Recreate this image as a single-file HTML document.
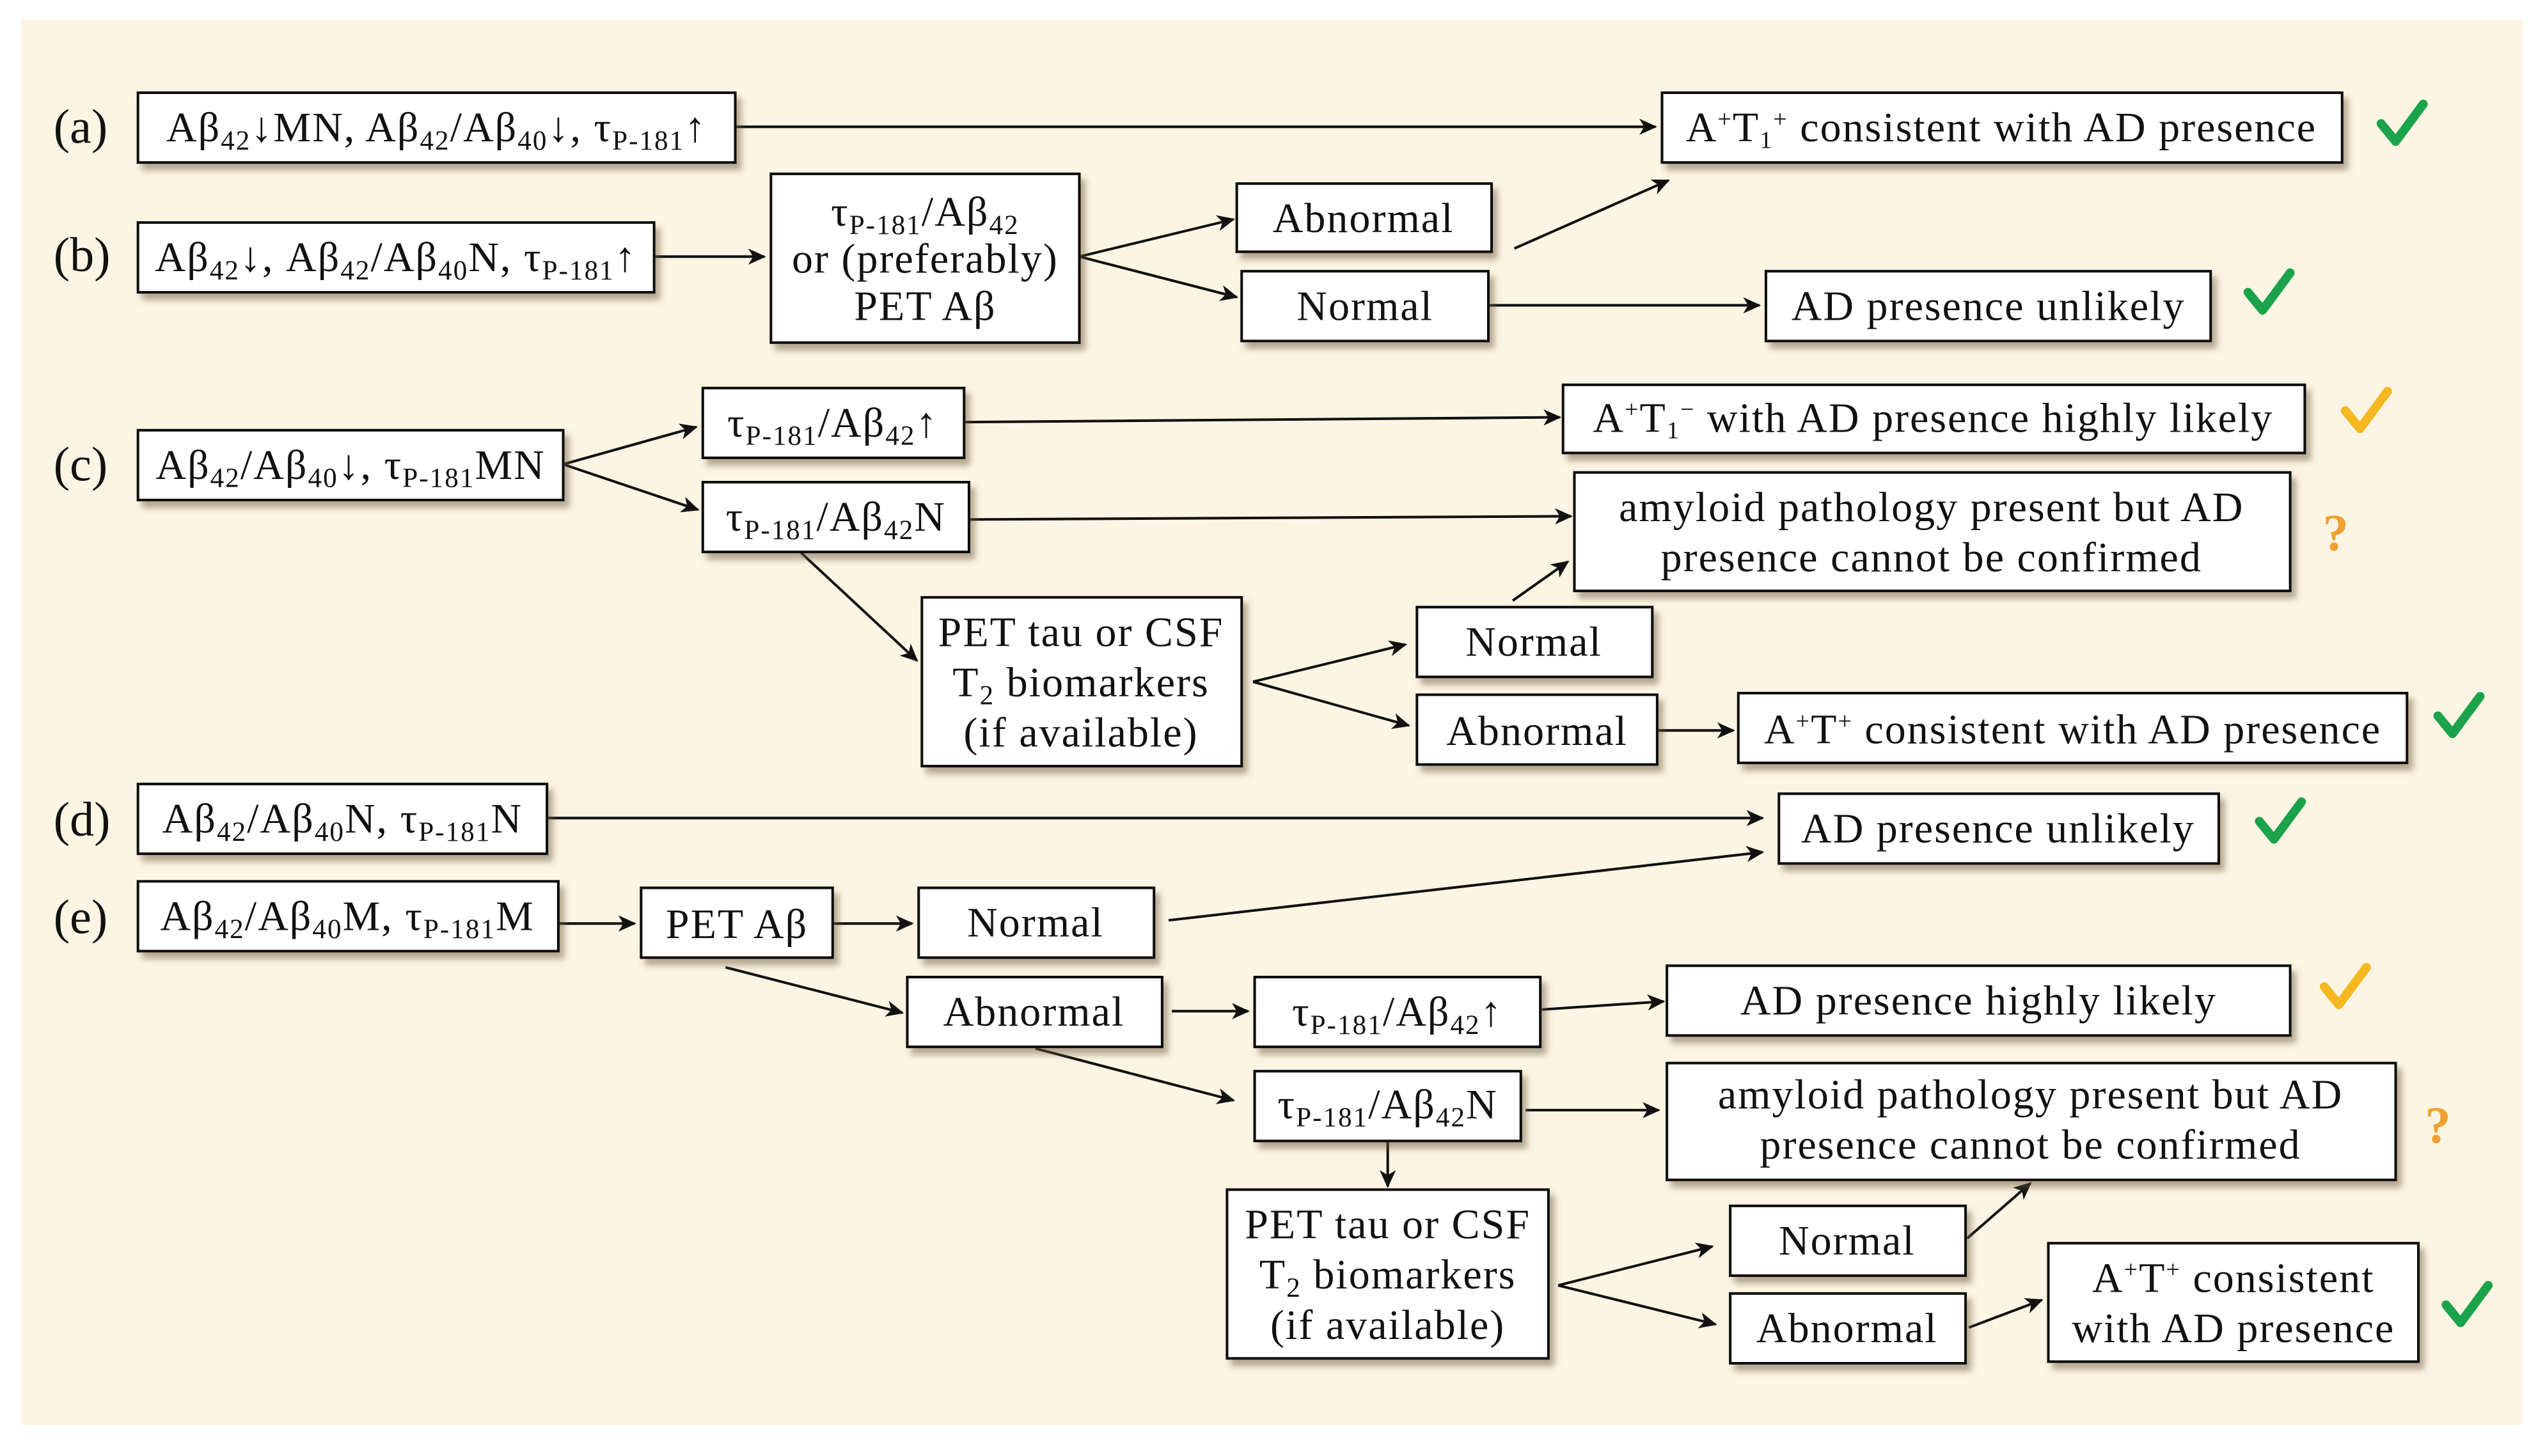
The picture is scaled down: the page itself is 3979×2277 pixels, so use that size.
<!DOCTYPE html>
<html><head><meta charset="utf-8"><style>
html,body{margin:0;padding:0;background:#fff}
svg{display:block}
text{font-family:"Liberation Serif",serif;fill:#111}
</style></head><body>
<svg width="3979" height="2277" viewBox="0 0 1568 897" xmlns="http://www.w3.org/2000/svg">
<defs>
<marker id="ar" markerWidth="12" markerHeight="12" refX="10" refY="5" orient="auto" markerUnits="userSpaceOnUse">
<path d="M0,0 L11,5 L0,10 L3,5 z" fill="#111"/></marker>
<filter id="sh" x="-10%" y="-20%" width="130%" height="160%"><feDropShadow dx="3" dy="4" stdDeviation="2" flood-color="#6b5a3a" flood-opacity="0.5"/></filter>
</defs>
<rect x="13" y="12" width="1541" height="866" fill="#fdf5e3"/>
<g font-size="30">
<text x="33" y="88">(a)</text><text x="33" y="167">(b)</text><text x="33" y="296">(c)</text><text x="33" y="515">(d)</text><text x="33" y="575">(e)</text>
</g>
<g stroke="#111" stroke-width="1.6" marker-end="url(#ar)" fill="none">
<line x1="453" y1="78" x2="1020" y2="78"/>
<line x1="403" y1="158" x2="471" y2="158"/>
<line x1="665" y1="158" x2="760" y2="135"/>
<line x1="665" y1="158" x2="762" y2="183"/>
<line x1="933" y1="153" x2="1028" y2="111"/>
<line x1="917" y1="188" x2="1084" y2="188"/>
<line x1="347" y1="286" x2="429" y2="263"/>
<line x1="347" y1="286" x2="430" y2="314"/>
<line x1="594" y1="260" x2="961" y2="257"/>
<line x1="597" y1="320" x2="968" y2="318"/>
<line x1="493" y1="340" x2="565" y2="407"/>
<line x1="772" y1="420" x2="866" y2="397"/>
<line x1="772" y1="420" x2="868" y2="447"/>
<line x1="932" y1="370" x2="966" y2="346"/>
<line x1="1021" y1="450" x2="1068" y2="450"/>
<line x1="337" y1="504" x2="1086" y2="504"/>
<line x1="344" y1="569" x2="391" y2="569"/>
<line x1="513" y1="569" x2="562" y2="569"/>
<line x1="720" y1="567" x2="1086" y2="525"/>
<line x1="447" y1="596" x2="556" y2="624"/>
<line x1="722" y1="623" x2="769" y2="623"/>
<line x1="950" y1="622" x2="1025" y2="617"/>
<line x1="638" y1="646" x2="760" y2="678"/>
<line x1="940" y1="684" x2="1022" y2="684"/>
<line x1="855" y1="703" x2="855" y2="731"/>
<line x1="960" y1="792" x2="1055" y2="768"/>
<line x1="960" y1="792" x2="1057" y2="816"/>
<line x1="1212" y1="763" x2="1251" y2="729"/>
<line x1="1213" y1="818" x2="1258" y2="801"/>
</g>
<g fill="#fff" stroke="#111" stroke-width="1.6" filter="url(#sh)">
<rect x="85" y="57" width="368" height="43"/>
<rect x="1024" y="57" width="419" height="43"/>
<rect x="85" y="137" width="318" height="43"/>
<rect x="475" y="107" width="190" height="104"/>
<rect x="762" y="113" width="157" height="42"/>
<rect x="765" y="167" width="152" height="43"/>
<rect x="1088" y="167" width="274" height="43"/>
<rect x="85" y="265" width="262" height="43"/>
<rect x="433" y="239" width="161" height="43"/>
<rect x="963" y="237" width="457" height="42"/>
<rect x="433" y="297" width="164" height="43"/>
<rect x="970" y="291" width="441" height="73"/>
<rect x="568" y="368" width="197" height="104"/>
<rect x="873" y="374" width="145" height="43"/>
<rect x="873" y="428" width="148" height="43"/>
<rect x="1071" y="427" width="412" height="43"/>
<rect x="85" y="483" width="252" height="43"/>
<rect x="1096" y="489" width="271" height="43"/>
<rect x="85" y="543" width="259" height="43"/>
<rect x="395" y="547" width="118" height="43"/>
<rect x="566" y="547" width="145" height="43"/>
<rect x="559" y="602" width="157" height="43"/>
<rect x="773" y="602" width="176" height="43"/>
<rect x="1027" y="595" width="384" height="43"/>
<rect x="773" y="660" width="164" height="43"/>
<rect x="1027" y="655" width="449" height="72"/>
<rect x="756" y="733" width="198" height="104"/>
<rect x="1066" y="743" width="145" height="43"/>
<rect x="1066" y="797" width="145" height="43"/>
<rect x="1262" y="766" width="228" height="73"/>
</g>
<g font-size="26" text-anchor="middle" letter-spacing="0.8">
<text x="269" y="87">Aβ<tspan font-size="17" dy="5">42</tspan><tspan dy="-5">↓MN, Aβ</tspan><tspan font-size="17" dy="5">42</tspan><tspan dy="-5">/Aβ</tspan><tspan font-size="17" dy="5">40</tspan><tspan dy="-5">↓, τ</tspan><tspan font-size="17" dy="5">P-181</tspan><tspan dy="-5">↑</tspan></text>
<text x="1233" y="87">A<tspan font-size="15" dy="-9">+</tspan><tspan dy="9">T</tspan><tspan font-size="15" dy="4">1</tspan><tspan font-size="15" dy="-13">+</tspan><tspan dy="9"> consistent with AD presence</tspan></text>
<text x="244" y="167">Aβ<tspan font-size="17" dy="5">42</tspan><tspan dy="-5">↓, Aβ</tspan><tspan font-size="17" dy="5">42</tspan><tspan dy="-5">/Aβ</tspan><tspan font-size="17" dy="5">40</tspan><tspan dy="-5">N, τ</tspan><tspan font-size="17" dy="5">P-181</tspan><tspan dy="-5">↑</tspan></text>
<text x="570" y="139">τ<tspan font-size="17" dy="5">P-181</tspan><tspan dy="-5">/Aβ</tspan><tspan font-size="17" dy="5">42</tspan></text>
<text x="570" y="168">or (preferably)</text>
<text x="570" y="197">PET Aβ</text>
<text x="840" y="143">Abnormal</text>
<text x="841" y="197">Normal</text>
<text x="1225" y="197">AD presence unlikely</text>
<text x="216" y="295">Aβ<tspan font-size="17" dy="5">42</tspan><tspan dy="-5">/Aβ</tspan><tspan font-size="17" dy="5">40</tspan><tspan dy="-5">↓, τ</tspan><tspan font-size="17" dy="5">P-181</tspan><tspan dy="-5">MN</tspan></text>
<text x="513" y="269">τ<tspan font-size="17" dy="5">P-181</tspan><tspan dy="-5">/Aβ</tspan><tspan font-size="17" dy="5">42</tspan><tspan dy="-5">↑</tspan></text>
<text x="1191" y="266">A<tspan font-size="15" dy="-9">+</tspan><tspan dy="9">T</tspan><tspan font-size="15" dy="4">1</tspan><tspan font-size="15" dy="-13">−</tspan><tspan dy="9"> with AD presence highly likely</tspan></text>
<text x="515" y="327">τ<tspan font-size="17" dy="5">P-181</tspan><tspan dy="-5">/Aβ</tspan><tspan font-size="17" dy="5">42</tspan><tspan dy="-5">N</tspan></text>
<text x="1190" y="321">amyloid pathology present but AD</text>
<text x="1190" y="352">presence cannot be confirmed</text>
<text x="666" y="398">PET tau or CSF</text>
<text x="666" y="429">T<tspan font-size="17" dy="5">2</tspan><tspan dy="-5"> biomarkers</tspan></text>
<text x="666" y="460">(if available)</text>
<text x="945" y="404">Normal</text>
<text x="947" y="459">Abnormal</text>
<text x="1277" y="458">A<tspan font-size="15" dy="-9">+</tspan><tspan dy="9">T</tspan><tspan font-size="15" dy="-9">+</tspan><tspan dy="9"> consistent with AD presence</tspan></text>
<text x="211" y="513">Aβ<tspan font-size="17" dy="5">42</tspan><tspan dy="-5">/Aβ</tspan><tspan font-size="17" dy="5">40</tspan><tspan dy="-5">N, τ</tspan><tspan font-size="17" dy="5">P-181</tspan><tspan dy="-5">N</tspan></text>
<text x="1231" y="519">AD presence unlikely</text>
<text x="214" y="573">Aβ<tspan font-size="17" dy="5">42</tspan><tspan dy="-5">/Aβ</tspan><tspan font-size="17" dy="5">40</tspan><tspan dy="-5">M, τ</tspan><tspan font-size="17" dy="5">P-181</tspan><tspan dy="-5">M</tspan></text>
<text x="454" y="578">PET Aβ</text>
<text x="638" y="577">Normal</text>
<text x="637" y="632">Abnormal</text>
<text x="861" y="632">τ<tspan font-size="17" dy="5">P-181</tspan><tspan dy="-5">/Aβ</tspan><tspan font-size="17" dy="5">42</tspan><tspan dy="-5">↑</tspan></text>
<text x="1219" y="625">AD presence highly likely</text>
<text x="855" y="689">τ<tspan font-size="17" dy="5">P-181</tspan><tspan dy="-5">/Aβ</tspan><tspan font-size="17" dy="5">42</tspan><tspan dy="-5">N</tspan></text>
<text x="1251" y="683">amyloid pathology present but AD</text>
<text x="1251" y="714">presence cannot be confirmed</text>
<text x="855" y="763">PET tau or CSF</text>
<text x="855" y="794">T<tspan font-size="17" dy="5">2</tspan><tspan dy="-5"> biomarkers</tspan></text>
<text x="855" y="825">(if available)</text>
<text x="1138" y="773">Normal</text>
<text x="1138" y="827">Abnormal</text>
<text x="1376" y="796">A<tspan font-size="15" dy="-9">+</tspan><tspan dy="9">T</tspan><tspan font-size="15" dy="-9">+</tspan><tspan dy="9"> consistent</tspan></text>
<text x="1376" y="827">with AD presence</text>
</g>
<g stroke-linecap="round" stroke-linejoin="round" fill="none" stroke-width="5.5">
<path d="M1467,76 L1476,87 L1493,64" stroke="#1aa34a"/>
<path d="M1385,180 L1394,191 L1411,168" stroke="#1aa34a"/>
<path d="M1445,253 L1454,264 L1471,241" stroke="#f5b820"/>
<path d="M1502,441 L1511,452 L1528,429" stroke="#1aa34a"/>
<path d="M1392,506 L1401,517 L1418,494" stroke="#1aa34a"/>
<path d="M1432,608 L1441,619 L1458,596" stroke="#f5b820"/>
<path d="M1507,804 L1516,815 L1533,792" stroke="#1aa34a"/>
</g>
<g font-size="32" font-weight="bold">
<text x="1431" y="339" style="fill:#f0a030">?</text>
<text x="1494" y="704" style="fill:#f0a030">?</text>
</g>
</svg>
</body></html>
